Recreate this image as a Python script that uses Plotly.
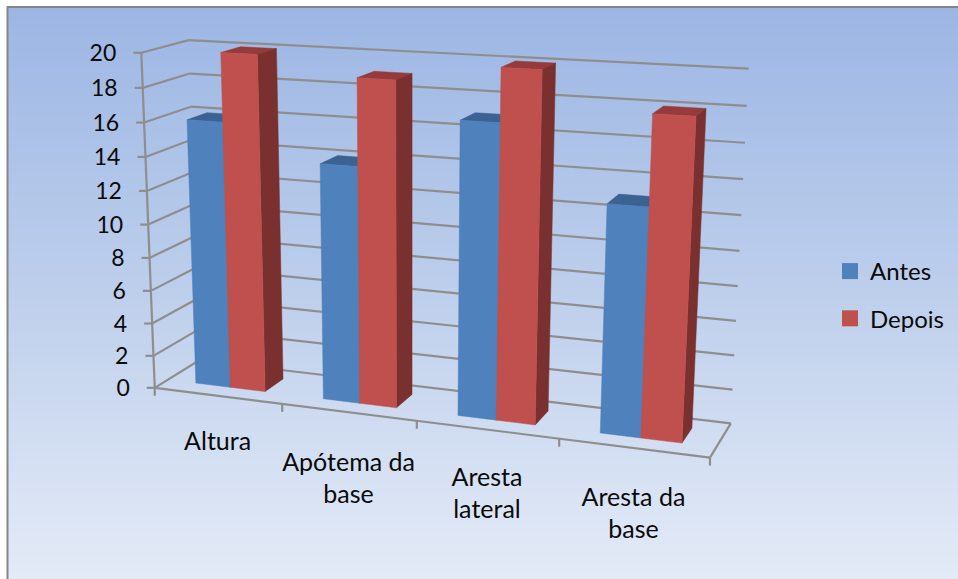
import numpy as np
import plotly.graph_objects as go

categories = ["Altura", "Apótema da<br>base", "Aresta<br>lateral", "Aresta da<br>base"]
antes = [16, 14, 17, 13]
depois = [20, 19, 20, 18]
value_ticks = list(range(0, 21, 2))
series_names = ["Antes", "Depois"]

W, H = 958, 579
VMAX = 20.0
GAP = 0.225
Y_FRONT, Y_BACK = 0.29, 0.73
LABEL_DROP = [48, 53, 50, 52]

# Chart-box calibration: box coordinates (across, depth, height) -> page pixels
box_pts = np.array([
    [0, 0, 0], [.25, 0, 0], [.5, 0, 0], [.75, 0, 0], [1, 0, 0],
    [0, 1, 0], [1, 1, 0], [0, 0, 1], [0, 1, 1], [1, 1, 1],
    [1, 1, .9], [1, 1, .8], [1, 1, .7], [0, 0, .9],
], float)
pix_pts = np.array([
    [156.7, 386.7], [282.7, 403.3], [416.7, 420], [559, 439.3], [710, 459.3],
    [197, 362], [731, 421.7], [140, 53], [191, 39.7], [748.3, 68.7],
    [746.7, 106], [745, 142.7], [743.3, 179.3], [141.7, 88],
], float)
A = []
for (X, Y, Z), (u, v) in zip(box_pts, pix_pts):
    u, v = u / 500, v / 500
    A.append([X, Y, Z, 1, 0, 0, 0, 0, -u * X, -u * Y, -u * Z, -u])
    A.append([0, 0, 0, 0, X, Y, Z, 1, -v * X, -v * Y, -v * Z, -v])
P = np.linalg.svd(np.array(A))[2][-1].reshape(3, 4)


def proj(X, Y, Z):
    p = P @ np.array([X, Y, Z, 1.0])
    return p[0] / p[2] * 500, p[1] / p[2] * 500


def poly(corners):
    pts = [proj(*c) for c in corners]
    return [p[0] for p in pts] + [pts[0][0], None], [p[1] for p in pts] + [pts[0][1], None]


fig = go.Figure()
GRID = "#8e8e8e"


def add_lines(xs, ys, width=2.2):
    fig.add_trace(go.Scatter(x=xs, y=ys, mode="lines", line=dict(color=GRID, width=width),
                             hoverinfo="skip", showlegend=False))


gx, gy = [], []
for t in value_ticks:
    z = t / VMAX
    for a, b in [((0, 0, z), (0, 1, z)), ((0, 1, z), (1, 1, z))]:
        pa, pb = proj(*a), proj(*b)
        gx += [pa[0], pb[0], None]
        gy += [pa[1], pb[1], None]
    pa = proj(0, 0, z)
    gx += [pa[0] - 8, pa[0], None]
    gy += [pa[1], pa[1], None]
for a, b in [((0, 0, 0), (0, 0, 1)), ((0, 0, 0), (1, 0, 0)), ((1, 0, 0), (1, 1, 0))]:
    pa, pb = proj(*a), proj(*b)
    gx += [pa[0], pb[0], None]
    gy += [pa[1], pb[1], None]
for i in range(len(categories) + 1):
    pa = proj(i / len(categories), 0, 0)
    gx += [pa[0], pa[0], None]
    gy += [pa[1], pa[1] + 8, None]
add_lines(gx, gy)


def add_face(xs, ys, color):
    fig.add_trace(go.Scatter(x=xs, y=ys, mode="lines", fill="toself", fillcolor=color,
                             line=dict(color=color, width=0.5), hoverinfo="skip", showlegend=False))


n = len(categories)
STYLE = [("#4f81bd", "#3b6291", "#3b6291"), ("#c0504d", "#963b39", "#7a302e")]
for s, vals in enumerate([antes, depois]):
    fx, fy, tx, ty, sx, sy = [], [], [], [], [], []
    for i, v in enumerate(vals):
        z = v / VMAX
        x0 = (i + GAP + s * (1 - 2 * GAP) / 2) / n
        x1 = (i + GAP + (s + 1) * (1 - 2 * GAP) / 2) / n
        a, b = poly([(x0, Y_FRONT, 0), (x1, Y_FRONT, 0), (x1, Y_FRONT, z), (x0, Y_FRONT, z)])
        fx += a; fy += b
        a, b = poly([(x0, Y_FRONT, z), (x1, Y_FRONT, z), (x1, Y_BACK, z), (x0, Y_BACK, z)])
        tx += a; ty += b
        a, b = poly([(x1, Y_FRONT, 0), (x1, Y_BACK, 0), (x1, Y_BACK, z), (x1, Y_FRONT, z)])
        sx += a; sy += b
    col_f, col_t, col_s = STYLE[s]
    add_face(tx, ty, col_t)
    add_face(sx, sy, col_s)
    add_face(fx, fy, col_f)

FONT_FAMILY = "Lato, Carlito, sans-serif"
TICK_FONT = dict(family=FONT_FAMILY, size=23, color="#0a0a0a")
FONT = dict(family=FONT_FAMILY, size=25, color="#0a0a0a")
LEG_FONT = dict(family=FONT_FAMILY, size=24, color="#0a0a0a")
lx, ly, lt = [], [], []
for t in value_ticks:
    p = proj(0, 0, t / VMAX)
    lx.append(p[0] - 25); ly.append(p[1] + 2.5); lt.append(str(t))
fig.add_trace(go.Scatter(x=lx, y=ly, text=lt, mode="text", textposition="middle left",
                         textfont=TICK_FONT, hoverinfo="skip", showlegend=False))

cx, cy, ct = [], [], []
for i, c in enumerate(categories):
    p = proj((i + .5) / n, 0, 0)
    for j, line in enumerate(c.split("<br>")):
        cx.append(p[0]); cy.append(p[1] + LABEL_DROP[i] + 32 * j); ct.append(line)
fig.add_trace(go.Scatter(x=cx, y=cy, text=ct, mode="text", textposition="middle center",
                         textfont=FONT, hoverinfo="skip", showlegend=False))

for name, col in zip(series_names, ["#4f81bd", "#c0504d"]):
    fig.add_trace(go.Scatter(x=[None], y=[None], mode="markers", name=name, legendgroup=name,
                             marker=dict(symbol="square", size=16, color=col)))

# Backdrop: vertical gradient bands plus the grey frame
stops = [(0, (156, 182, 228)), (.5, (190, 207, 236)), (1, (228, 235, 247))]
shapes = []
ys = np.arange(6, H + 2, 2)
for y in ys:
    f = (y - 6) / (H - 6)
    c = [np.interp(f, [s[0] for s in stops], [s[1][k] for s in stops]) for k in range(3)]
    shapes.append(dict(type="rect", xref="x", yref="y", x0=7, x1=W + 2, y0=float(y), y1=float(y + 2),
                       layer="below", line_width=0,
                       fillcolor="rgb(%d,%d,%d)" % tuple(int(round(v)) for v in c)))
shapes.append(dict(type="rect", xref="x", yref="y", x0=7.5, x1=W + 5, y0=7, y1=H + 5, layer="below",
                   line=dict(color="#868686", width=2), fillcolor="rgba(0,0,0,0)"))

fig.update_layout(
    width=W, height=H, margin=dict(l=0, r=0, t=0, b=0),
    paper_bgcolor="white", plot_bgcolor="rgba(0,0,0,0)",
    xaxis=dict(visible=False, range=[0, W], fixedrange=True),
    yaxis=dict(visible=False, range=[H, 0], fixedrange=True),
    shapes=shapes,
    legend=dict(x=830 / W, y=1 - 249 / H, xanchor="left", yanchor="top",
                bgcolor="rgba(0,0,0,0)", font=LEG_FONT, tracegroupgap=13, itemclick=False, itemdoubleclick=False),
    showlegend=True,
)
fig.write_html("out.html", config=dict(displayModeBar=False),
               post_script="document.body.style.margin='0';document.body.style.overflow='hidden';")
